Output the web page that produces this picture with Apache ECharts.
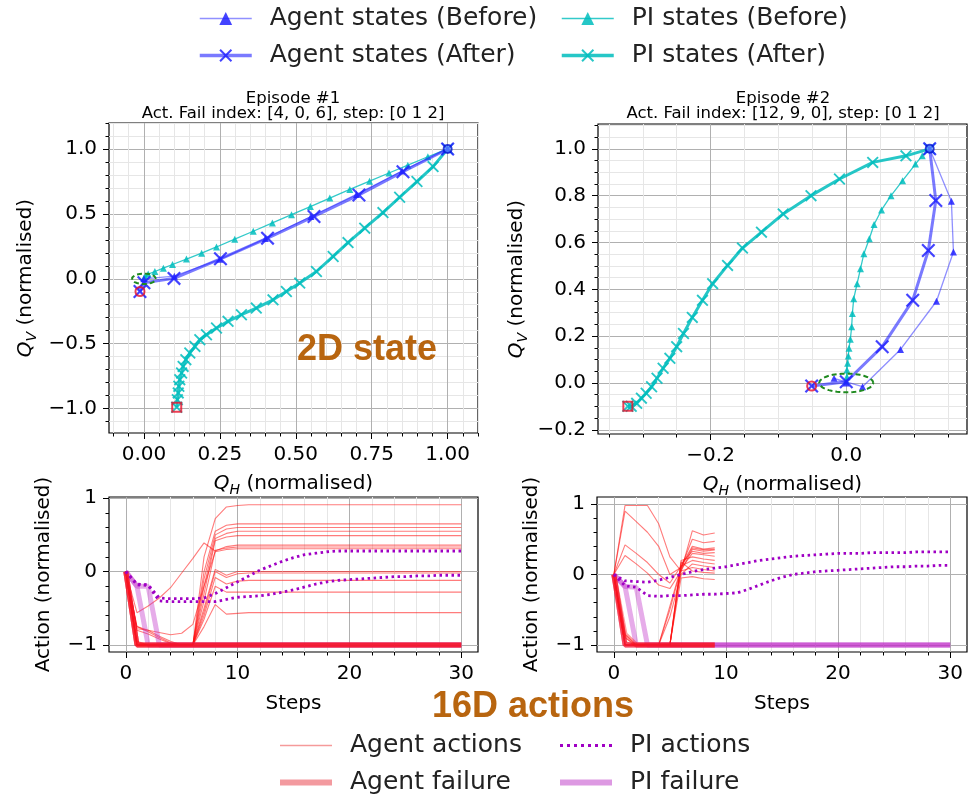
<!DOCTYPE html>
<html><head><meta charset="utf-8">
<script src="https://cdn.jsdelivr.net/npm/echarts@6/dist/echarts.min.js"></script>
<style>html,body{margin:0;padding:0;background:#fff}#c{width:969px;height:795px}</style>
</head><body><div id="c"></div>
<script>
// ---------------- DATA ----------------
// Episode 1 : 2D state trajectories (Q_H, Q_V)
const ep1AgentBeforeX = [1.0, 0.85, 0.70, 0.55, 0.40, 0.25, 0.10, 0.0];
const ep1AgentBeforeY = [1.0, 0.83, 0.65, 0.48, 0.31, 0.15, 0.02, 0.0];
const ep1AgentAfterX = [1.0, 0.853, 0.708, 0.56, 0.407, 0.252, 0.099, 0.0, -0.013];
const ep1AgentAfterY = [1.0, 0.825, 0.646, 0.48, 0.313, 0.154, 0.003, -0.03, -0.098];
const ep1PIBeforeX = [1.0, 0.935, 0.869, 0.807, 0.743, 0.678, 0.612, 0.548, 0.486, 0.423, 0.36, 0.299, 0.239, 0.19, 0.14, 0.094, 0.064, 0.036, 0.014, 0.004, 0.0];
const ep1PIBeforeY = [1.0, 0.94, 0.875, 0.815, 0.752, 0.688, 0.622, 0.556, 0.494, 0.43, 0.366, 0.305, 0.245, 0.197, 0.152, 0.11, 0.082, 0.056, 0.036, 0.018, 0.005];
const ep1PIAfterX = [1.0, 0.952, 0.899, 0.842, 0.787, 0.727, 0.672, 0.623, 0.568, 0.513, 0.469, 0.425, 0.37, 0.321, 0.277, 0.239, 0.206, 0.184, 0.168, 0.151, 0.138, 0.129, 0.124, 0.118, 0.115, 0.113, 0.11, 0.108];
const ep1PIAfterY = [1.0, 0.864, 0.749, 0.628, 0.51, 0.39, 0.279, 0.172, 0.056, -0.033, -0.098, -0.162, -0.226, -0.277, -0.328, -0.379, -0.431, -0.469, -0.521, -0.572, -0.623, -0.675, -0.726, -0.777, -0.828, -0.879, -0.931, -0.99];

// Episode 2 : 2D state trajectories
const ep2AgentBeforeX = [0.123, 0.155, 0.158, 0.133, 0.08, 0.024, -0.018, 0.0];
const ep2AgentBeforeY = [1.0, 0.776, 0.559, 0.349, 0.143, -0.016, 0.02, 0.0];
const ep2AgentAfterX = [0.123, 0.132, 0.121, 0.098, 0.053, 0.0, -0.051];
const ep2AgentAfterY = [1.0, 0.779, 0.566, 0.353, 0.155, 0.005, -0.013];
const ep2PIBeforeX = [0.123, 0.112, 0.102, 0.083, 0.066, 0.052, 0.041, 0.034, 0.026, 0.021, 0.016, 0.011, 0.009, 0.008, 0.006, 0.004, 0.003, 0.002, 0.001, 0.001, 0.0];
const ep2PIBeforeY = [1.0, 0.97, 0.935, 0.864, 0.8, 0.739, 0.677, 0.616, 0.552, 0.488, 0.424, 0.36, 0.297, 0.24, 0.187, 0.148, 0.115, 0.084, 0.055, 0.027, 0.007];
const ep2PIAfterX = [0.123, 0.088, 0.039, -0.010, -0.052, -0.093, -0.125, -0.153, -0.175, -0.197, -0.212, -0.227, -0.240, -0.25, -0.26, -0.27, -0.279, -0.287, -0.295, -0.302, -0.309, -0.317, -0.322];
const ep2PIAfterY = [1.0, 0.970, 0.942, 0.871, 0.8, 0.722, 0.644, 0.576, 0.502, 0.424, 0.353, 0.28, 0.211, 0.155, 0.105, 0.063, 0.02, -0.016, -0.044, -0.065, -0.087, -0.1, -0.1];

// Target region (green dashed ellipse)
const targetCenter = [0.0, 0.0];
const targetRadius = 0.04;

// Episode 1 : 16D actions
const ep1AgentSteps = [0, 1, 2, 3, 4, 5, 6, 7, 8, 9, 10, 11, 30];
const ep1AgentActions = [
  [0, -1, -1, -1, -1, -1, -1, 0.2, 0.72, 0.88, 0.9, 0.91, 0.91],
  [0, -1, -1, -1, -1, -1, -1, 0.0, 0.55, 0.63, 0.65, 0.65, 0.65],
  [0, -0.97, -1, -1, -1, -1, -1, -0.1, 0.5, 0.58, 0.6, 0.6, 0.6],
  [0, -0.75, -0.82, -0.9, -0.97, -1, -1, -0.2, 0.45, 0.52, 0.55, 0.55, 0.55],
  [0, -1, -1, -1, -1, -1, -1, -0.3, 0.42, 0.47, 0.49, 0.49, 0.49],
  [0, -0.56, -0.47, -0.36, -0.22, -0.02, 0.18, 0.39, 0.28, 0.34, 0.36, 0.36, 0.36],
  [0, -1, -1, -1, -1, -1, -1, -0.4, 0.29, 0.32, 0.335, 0.335, 0.335],
  [0, -0.78, -0.8, -0.83, -0.86, -0.84, -0.72, -0.2, 0.27, 0.3, 0.31, 0.31, 0.31],
  [0, -1, -1, -1, -1, -1, -1, -0.5, 0.03, -0.05, 0.0, 0.0, 0.0],
  [0, -0.75, -0.8, -0.88, -0.95, -1, -1, -0.55, 0.0, -0.08, -0.03, -0.02, -0.02],
  [0, -1, -1, -1, -1, -1, -1, -0.6, -0.08, -0.17, -0.13, -0.12, -0.12],
  [0, -0.95, -1, -1, -1, -1, -1, -0.65, -0.2, -0.28, -0.28, -0.28, -0.28],
  [0, -0.8, -0.85, -0.92, -0.98, -1, -1, -0.75, -0.45, -0.58, -0.57, -0.56, -0.56]
];
const ep1AgentFailSteps = [[0, 1, 30], [0, 1, 30], [0, 1, 30]];
const ep1AgentFailures = [[0, -1, -1], [0, -1, -1], [0, -1, -1]];
const ep1PIFailSteps = [[0, 1, 30], [0, 1, 2, 30], [0, 1, 2, 3, 30]];
const ep1PIFailures = [[0, -1, -1], [0, -0.2, -1, -1], [0, -0.2, -0.2, -1, -1]];
const piSteps = [0,1,2,3,4,5,6,7,8,9,10,11,12,13,14,15,16,17,18,19,20,21,22,23,24,25,26,27,28,29,30];
const ep1PIActions = [
  [0,-0.17,-0.18,-0.36,-0.37,-0.37,-0.37,-0.36,-0.3,-0.22,-0.14,-0.06,0.02,0.08,0.14,0.19,0.23,0.25,0.27,0.28,0.28,0.28,0.28,0.28,0.28,0.28,0.28,0.28,0.28,0.28,0.28],
  [0,-0.18,-0.19,-0.4,-0.41,-0.41,-0.41,-0.41,-0.41,-0.38,-0.35,-0.34,-0.33,-0.31,-0.28,-0.25,-0.21,-0.17,-0.14,-0.12,-0.11,-0.1,-0.09,-0.08,-0.07,-0.07,-0.06,-0.06,-0.05,-0.05,-0.05]
];

// Episode 2 : 16D actions
const ep2AgentSteps = [0, 1, 2, 3, 4, 5, 6, 7, 8, 9];
const ep2AgentActions = [
  [0, 0.98, 0.98, 0.98, 0.72, 0.25, 0.05, 0.62, 0.56, 0.59],
  [0, 0.9, 0.75, 0.6, 0.4, 0.0, 0.1, 0.5, 0.45, 0.47],
  [0, 0.42, 0.3, 0.17, 0.0, -0.12, 0.12, 0.4, 0.36, 0.38],
  [0, 0.27, 0.15, 0.02, -0.15, -0.2, 0.05, 0.36, 0.33, 0.35],
  [0, -0.95, -1, -1, -1, -0.45, 0.1, 0.38, 0.35, 0.36],
  [0, -1, -1, -1, -1, -1, 0.15, 0.33, 0.3, 0.31],
  [0, -1, -1, -1, -1, -0.5, 0.08, 0.3, 0.28, 0.26],
  [0, -0.9, -1, -1, -1, -1, 0.2, 0.25, 0.22, 0.2],
  [0, -1, -1, -1, -1, -1, 0.12, 0.2, 0.17, 0.15],
  [0, -1, -1, -1, -1, -0.6, 0.0, 0.15, 0.12, 0.1],
  [0, -1, -1, -1, -1, -1, 0.05, 0.1, 0.07, 0.05],
  [0, -0.85, -1, -1, -1, -1, 0.18, 0.05, 0.03, 0.02],
  [0, -1, -1, -1, -1, -1, -0.05, -0.03, -0.06, -0.07]
];
const ep2AgentFailSteps = [[0, 1, 9], [0, 1, 2, 9], [0, 1, 9]];
const ep2AgentFailures = [[0, -1, -1], [0, -0.85, -1, -1], [0, -1, -1]];
const ep2PIFailSteps = [[0, 1, 30], [0, 1, 2, 30], [0, 1, 2, 3, 30]];
const ep2PIFailures = [[0, -1, -1], [0, -0.17, -1, -1], [0, -0.17, -0.18, -1, -1]];
const ep2PIActions = [
  [0,-0.09,-0.1,-0.11,-0.08,-0.04,0.0,0.04,0.07,0.09,0.11,0.14,0.17,0.2,0.22,0.24,0.26,0.27,0.28,0.29,0.3,0.3,0.3,0.31,0.31,0.31,0.31,0.32,0.32,0.32,0.32],
  [0,-0.16,-0.18,-0.3,-0.31,-0.3,-0.3,-0.29,-0.28,-0.28,-0.27,-0.26,-0.21,-0.15,-0.09,-0.04,0.0,0.02,0.04,0.05,0.06,0.07,0.08,0.09,0.1,0.11,0.11,0.12,0.12,0.13,0.13]
];

// Tick labels
const tlXTicks = [0, 0.25, 0.5, 0.75, 1.0];
const tlXLabels = ['0.00', '0.25', '0.50', '0.75', '1.00'];
const tlYTicks = [-1.0, -0.5, 0.0, 0.5, 1.0];
const tlYLabels = ['\u22121.0', '\u22120.5', '0.0', '0.5', '1.0'];
const trXTicks = [-0.2, 0.0];
const trXLabels = ['\u22120.2', '0.0'];
const trYTicks = [-0.2, 0.0, 0.2, 0.4, 0.6, 0.8, 1.0];
const trYLabels = ['\u22120.2', '0.0', '0.2', '0.4', '0.6', '0.8', '1.0'];
const actXTicks = [0, 10, 20, 30];
const actXLabels = ['0', '10', '20', '30'];
const actYTicks = [-1, 0, 1];
const actYLabels = ['\u22121', '0', '1'];

// ---------------- STYLE / LAYOUT ----------------
const FONT = 'DejaVu Sans';
const AGENT = '#2222ff';
const PI = '#00bdbd';
const RED = '#ff1010';
const PIACT = '#a000c4';
const PIFAIL = '#c030c8';
const X_PATH = 'path://M0,1.1L1.1,0L5,3.9L8.9,0L10,1.1L6.1,5L10,8.9L8.9,10L5,6.1L1.1,10L0,8.9L3.9,5Z';

function range(a, b, step) { const r = []; for (let v = a; v <= b + 1e-9; v += step) r.push(Math.round(v * 1000) / 1000); return r; }
function fmt(vals, labels) { return v => { for (let i = 0; i < vals.length; i++) if (Math.abs(vals[i] - v) < 1e-6) return labels[i]; return ''; }; }
function pairs(xs, ys) { return xs.map((x, i) => [x, ys[i]]); }

const richName = {
  q: {fontStyle: 'italic', fontSize: 20, fontFamily: FONT, color: '#000', lineHeight: 26},
  s: {fontStyle: 'italic', fontSize: 14, fontFamily: FONT, color: '#000', verticalAlign: 'bottom', lineHeight: 14},
  n: {fontSize: 20, fontFamily: FONT, color: '#000', lineHeight: 26}
};

function axisPair(dim, g, min, max, majorVals, majorLabels, minorVals, minorGrid, name, nameGap) {
  const pos = dim === 'x' ? 'bottom' : 'left';
  const minor = {
    type: 'value', gridIndex: g, min: min, max: max, position: pos,
    axisLine: {show: false, onZero: false},
    axisTick: {show: true, customValues: minorVals, length: 3.5, lineStyle: {color: '#000', width: 1}},
    axisLabel: {show: false},
    splitLine: {show: minorGrid, lineStyle: {color: '#e6e6e6', width: 1}}
  };
  const major = {
    type: 'value', gridIndex: g, min: min, max: max, position: pos,
    axisLine: {show: false, onZero: false},
    axisTick: {show: true, customValues: majorVals, length: 6, lineStyle: {color: '#000', width: 1}},
    axisLabel: {show: true, customValues: majorVals, formatter: fmt(majorVals, majorLabels), fontSize: 20, color: '#000', fontFamily: FONT, margin: 12},
    splitLine: {show: true, lineStyle: {color: '#b0b0b0', width: 1}},
    name: name, nameLocation: 'middle', nameGap: nameGap,
    nameTextStyle: {fontSize: 20, color: '#000', fontFamily: FONT, rich: richName}
  };
  return [minor, major];
}

const QH = '{q|Q}{s|H}{n| (normalised)}';
const QV = '{q|Q}{s|V}{n| (normalised)}';

const xAxes = [].concat(
  axisPair('x', 0, -0.115, 1.1, tlXTicks, tlXLabels, range(-0.1, 1.1, 0.05), true, QH, 38),
  axisPair('x', 1, -0.366, 0.178, trXTicks, trXLabels, range(-0.35, 0.15, 0.05), true, QH, 38),
  axisPair('x', 2, -1.5, 31.5, actXTicks, actXLabels, range(0, 30, 2), true, 'Steps', 42),
  axisPair('x', 3, -1.5, 31.5, actXTicks, actXLabels, range(0, 30, 2), true, 'Steps', 42)
);
const yAxes = [].concat(
  axisPair('y', 0, -1.188, 1.2, tlYTicks, tlYLabels, range(-1.1, 1.2, 0.1), true, QV, 70),
  axisPair('y', 1, -0.218, 1.106, trYTicks, trYLabels, range(-0.2, 1.1, 0.05), true, QV, 68),
  axisPair('y', 2, -1.096, 1.016, actYTicks, actYLabels, range(-1.0, 1.0, 0.2), false, 'Action (normalised)', 55),
  axisPair('y', 3, -1.1, 1.1, actYTicks, actYLabels, range(-1.0, 1.0, 0.2), false, 'Action (normalised)', 55)
);

const series = [];
function stateLine(name, xs, ys, g, color, width, symbol, size, z, lineOp) {
  series.push({
    type: 'line', name: name, xAxisIndex: 2 * g + 1, yAxisIndex: 2 * g + 1,
    data: pairs(xs, ys), symbol: symbol, symbolSize: size, showSymbol: true,
    lineStyle: {color: color, width: width, opacity: lineOp},
    itemStyle: {color: color, opacity: 0.85}, z: z, silent: true, animation: false
  });
}
function ellipse(g) {
  const pts = [];
  for (let k = 0; k <= 72; k++) {
    const a = k / 72 * 2 * Math.PI;
    pts.push([targetCenter[0] + targetRadius * Math.cos(a), targetCenter[1] + targetRadius * Math.sin(a)]);
  }
  series.push({type: 'line', name: 'target', xAxisIndex: 2 * g + 1, yAxisIndex: 2 * g + 1, data: pts, symbol: 'none',
    lineStyle: {color: '#1f8a1f', width: 2, type: [5, 3]}, z: 6, silent: true, animation: false});
}
function endMarks(g, sx, sy, ax, ay, px, py) {
  const ax_ = 2 * g + 1;
  series.push({type: 'scatter', name: 'start', xAxisIndex: ax_, yAxisIndex: ax_, data: [[sx, sy]], symbol: 'circle', symbolSize: 8,
    itemStyle: {color: 'rgba(120,200,255,0.6)', borderColor: '#0010d0', borderWidth: 2}, z: 8, silent: true, animation: false});
  series.push({type: 'scatter', name: 'endAgent', xAxisIndex: ax_, yAxisIndex: ax_, data: [[ax, ay]], symbol: 'circle', symbolSize: 9,
    itemStyle: {color: 'rgba(0,0,0,0)', borderColor: '#e8102a', borderWidth: 2}, z: 8, silent: true, animation: false});
  series.push({type: 'scatter', name: 'endPI', xAxisIndex: ax_, yAxisIndex: ax_, data: [[px, py]], symbol: 'rect', symbolSize: 9,
    itemStyle: {color: 'rgba(0,0,0,0)', borderColor: '#e8102a', borderWidth: 2}, z: 8, silent: true, animation: false});
}
function last(a) { return a[a.length - 1]; }

// top-left
stateLine('PI states (After)', ep1PIAfterX, ep1PIAfterY, 0, PI, 3, X_PATH, 12, 3, 0.85);
stateLine('PI states (Before)', ep1PIBeforeX, ep1PIBeforeY, 0, PI, 1.3, 'triangle', 7, 4, 0.8);
stateLine('Agent states (Before)', ep1AgentBeforeX, ep1AgentBeforeY, 0, AGENT, 1.3, 'triangle', 7, 4, 0.5);
stateLine('Agent states (After)', ep1AgentAfterX, ep1AgentAfterY, 0, AGENT, 3, X_PATH, 14, 5, 0.6);
ellipse(0);
endMarks(0, ep1AgentAfterX[0], ep1AgentAfterY[0], last(ep1AgentAfterX), last(ep1AgentAfterY), last(ep1PIAfterX), last(ep1PIAfterY));
// top-right
stateLine('PI states (After)', ep2PIAfterX, ep2PIAfterY, 1, PI, 3, X_PATH, 12, 3, 0.85);
stateLine('PI states (Before)', ep2PIBeforeX, ep2PIBeforeY, 1, PI, 1.3, 'triangle', 7, 4, 0.8);
stateLine('Agent states (Before)', ep2AgentBeforeX, ep2AgentBeforeY, 1, AGENT, 1.3, 'triangle', 7, 4, 0.5);
stateLine('Agent states (After)', ep2AgentAfterX, ep2AgentAfterY, 1, AGENT, 3, X_PATH, 14, 5, 0.6);
ellipse(1);
endMarks(1, ep2AgentAfterX[0], ep2AgentAfterY[0], last(ep2AgentAfterX), last(ep2AgentAfterY), last(ep2PIAfterX), last(ep2PIAfterY));

function actLine(name, steps, vals, g, style, z) {
  series.push({type: 'line', name: name, xAxisIndex: 2 * g + 1, yAxisIndex: 2 * g + 1,
    data: steps.map((s, i) => [s, vals[i]]), symbol: 'none', showSymbol: false,
    lineStyle: style, itemStyle: {color: style.color}, z: z, silent: true, animation: false});
}
const sAgent = {color: RED, width: 1.1, opacity: 0.55};
const sAgentFail = {color: RED, width: 5, opacity: 0.4};
const sPIFail = {color: PIFAIL, width: 5, opacity: 0.4};
const sPIAct = {color: PIACT, width: 2.8, type: [2.5, 3.5], opacity: 1};

ep1AgentActions.forEach(v => actLine('Agent actions', ep1AgentSteps, v, 2, sAgent, 2));
ep1PIFailures.forEach((v, i) => actLine('PI failure', ep1PIFailSteps[i], v, 2, sPIFail, 3));
ep1AgentFailures.forEach((v, i) => actLine('Agent failure', ep1AgentFailSteps[i], v, 2, sAgentFail, 4));
ep1PIActions.forEach(v => actLine('PI actions', piSteps, v, 2, sPIAct, 5));

ep2AgentActions.forEach(v => actLine('Agent actions', ep2AgentSteps, v, 3, sAgent, 2));
ep2PIFailures.forEach((v, i) => actLine('PI failure', ep2PIFailSteps[i], v, 3, sPIFail, 3));
ep2AgentFailures.forEach((v, i) => actLine('Agent failure', ep2AgentFailSteps[i], v, 3, sAgentFail, 4));
ep2PIActions.forEach(v => actLine('PI actions', piSteps, v, 3, sPIAct, 5));

// ---------------- LEGENDS ----------------
const LW = 52;
const legendText = {fontSize: 25, lineHeight: 24, color: '#222', fontFamily: FONT, padding: [0, 0, 0, 13]};
function leg(items, left, top, ih) {
  return {data: items, orient: 'vertical', left: left, top: top, width: 320, height: 64,
    itemWidth: LW, itemHeight: ih, itemGap: 12,
    selectedMode: false, textStyle: legendText, padding: 0};
}
function bar(h) { return 'path://M0,0h' + LW + 'v' + h + 'h-' + LW + 'z'; }
function dots() { let p = 'path://'; for (let x = 0; x + 3 <= LW; x += 7) p += 'M' + x + ',0h3v3h-3z'; return p; }

function txt(x, y, text, font, color, align) {
  return {type: 'text', x: x, y: y, z: 100, silent: true,
    style: {text: text, font: font, fill: color, textAlign: align || 'center', align: align || 'center', textVerticalAlign: 'middle', verticalAlign: 'middle'}};
}

const chart = echarts.init(document.getElementById('c'), null, {renderer: 'canvas'});
chart.setOption({
  animation: false,
  backgroundColor: '#fff',
  grid: [
    {left: 109, top: 123, width: 369, height: 310, show: true, borderColor: '#000', borderWidth: 1.2, backgroundColor: 'transparent'},
    {left: 598, top: 124, width: 369, height: 310, show: true, borderColor: '#000', borderWidth: 1.2, backgroundColor: 'transparent'},
    {left: 109, top: 497, width: 369, height: 155, show: true, borderColor: '#000', borderWidth: 1.2, backgroundColor: 'transparent'},
    {left: 597, top: 497, width: 370, height: 155, show: true, borderColor: '#000', borderWidth: 1.2, backgroundColor: 'transparent'}
  ],
  xAxis: xAxes,
  yAxis: yAxes,
  legend: [
    leg([{name: 'Agent states (Before)', lineStyle: {width: 1.5}},
         {name: 'Agent states (After)', lineStyle: {width: 3.5}}], 268 - LW - 18, 6, 16),
    leg([{name: 'PI states (Before)', lineStyle: {width: 1.5}},
         {name: 'PI states (After)', lineStyle: {width: 3.5}}], 630 - LW - 18, 6, 16),
    leg([{name: 'Agent actions', icon: bar(1.5), itemStyle: {color: '#f59a9a', opacity: 1}},
         {name: 'Agent failure', icon: bar(6), itemStyle: {color: '#f39a9f', opacity: 1}}], 350 - LW - 18, 733, 14),
    leg([{name: 'PI actions', icon: dots(), itemStyle: {color: '#a000c4', opacity: 1}},
         {name: 'PI failure', icon: bar(6), itemStyle: {color: '#dd99e2', opacity: 1}}], 630 - LW - 18, 733, 14)
  ],
  graphic: [
    txt(293, 99, 'Episode #1', '16.5px DejaVu Sans', '#000'),
    txt(293, 114, 'Act. Fail index: [4, 0, 6], step: [0 1 2]', '16.5px DejaVu Sans', '#000'),
    txt(783, 99, 'Episode #2', '16.5px DejaVu Sans', '#000'),
    txt(783, 114, 'Act. Fail index: [12, 9, 0], step: [0 1 2]', '16.5px DejaVu Sans', '#000'),
    txt(297, 350, '2D state', 'bold 36px Liberation Sans', '#b8650f', 'left'),
    txt(432, 707, '16D actions', 'bold 36px Liberation Sans', '#b8650f', 'left')
  ],
  series: series
});
</script></body></html>
